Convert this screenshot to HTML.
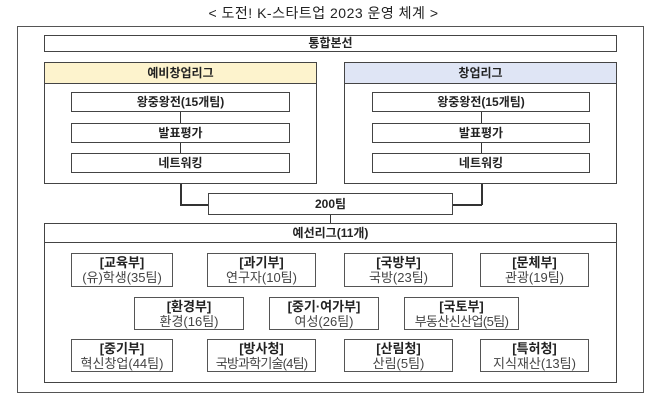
<!DOCTYPE html>
<html><head><meta charset="utf-8"><style>
body{margin:0;width:647px;height:401px;background:#fff;position:relative;overflow:hidden;font-family:"Liberation Sans","Noto Sans CJK KR",sans-serif;color:#222}
.b{position:absolute;box-sizing:border-box;border:1px solid #444;background:#fff;text-align:center;font-weight:bold;font-size:12px}
.l{position:absolute;background:#333}
.s{position:absolute;box-sizing:border-box;border:1px solid #555;background:#fff;text-align:center;font-size:13px;line-height:15px;padding-top:1px;white-space:nowrap}
.s b{display:block;font-size:13px;color:#222}
.s span{color:#444}
</style></head><body>
<div style="position:absolute;left:0;width:647px;top:3px;text-align:center;font-size:14px;letter-spacing:0.5px">&lt; 도전! K-스타트업 2023 운영 체계 &gt;</div>
<div style="position:absolute;left:17px;top:26px;width:627px;height:367px;box-sizing:border-box;border:1px solid #555"></div>
<div class="b" style="left:44px;top:35px;width:573px;height:17px;line-height:15px">통합본선</div>

<div class="b" style="left:44px;top:62px;width:273px;height:122px"></div>
<div class="b" style="left:44px;top:62px;width:273px;height:22px;line-height:20px;background:#fdf3cd">예비창업리그</div>
<div class="b" style="left:344px;top:62px;width:273px;height:122px"></div>
<div class="b" style="left:344px;top:62px;width:273px;height:22px;line-height:20px;background:#dfe5f5">창업리그</div>

<div class="l" style="left:180px;top:112px;width:1px;height:42px"></div>
<div class="l" style="left:481px;top:112px;width:1px;height:42px"></div>
<div class="b" style="left:71px;top:92px;width:219px;height:20px;line-height:18px">왕중왕전(15개팀)</div>
<div class="b" style="left:71px;top:123px;width:219px;height:20px;line-height:18px">발표평가</div>
<div class="b" style="left:71px;top:153px;width:219px;height:20px;line-height:18px">네트워킹</div>
<div class="b" style="left:372px;top:92px;width:218px;height:20px;line-height:18px">왕중왕전(15개팀)</div>
<div class="b" style="left:372px;top:123px;width:218px;height:20px;line-height:18px">발표평가</div>
<div class="b" style="left:372px;top:153px;width:218px;height:20px;line-height:18px">네트워킹</div>

<div class="l" style="left:180px;top:184px;width:1.5px;height:21px"></div>
<div class="l" style="left:180px;top:204px;width:28px;height:1.5px"></div>
<div class="l" style="left:481px;top:184px;width:1.5px;height:21px"></div>
<div class="l" style="left:453px;top:204px;width:29px;height:1.5px"></div>
<div class="b" style="left:208px;top:193px;width:245px;height:22px;line-height:20px">200팀</div>
<div class="l" style="left:330px;top:215px;width:1px;height:8px"></div>

<div class="b" style="left:44px;top:223px;width:573px;height:160px"></div>
<div class="b" style="left:44px;top:223px;width:573px;height:20px;line-height:18px">예선리그(11개)</div>

<div class="s" style="left:71px;top:253px;width:102px;height:34px"><b>[교육부]</b><span>(유)학생(35팀)</span></div>
<div class="s" style="left:207px;top:253px;width:109px;height:34px"><b>[과기부]</b><span>연구자(10팀)</span></div>
<div class="s" style="left:344px;top:253px;width:109px;height:34px"><b>[국방부]</b><span>국방(23팀)</span></div>
<div class="s" style="left:480px;top:253px;width:109px;height:34px"><b>[문체부]</b><span>관광(19팀)</span></div>
<div class="s" style="left:134px;top:297px;width:110px;height:33px"><b>[환경부]</b><span>환경(16팀)</span></div>
<div class="s" style="left:269px;top:297px;width:110px;height:33px"><b>[중기·여가부]</b><span>여성(26팀)</span></div>
<div class="s" style="left:404px;top:297px;width:115px;height:33px"><b>[국토부]</b><span style="letter-spacing:-0.6px">부동산신산업(5팀)</span></div>
<div class="s" style="left:71px;top:339px;width:102px;height:33px"><b>[중기부]</b><span>혁신창업(44팀)</span></div>
<div class="s" style="left:207px;top:339px;width:109px;height:33px"><b>[방사청]</b><span style="letter-spacing:-0.8px">국방과학기술(4팀)</span></div>
<div class="s" style="left:344px;top:339px;width:109px;height:33px"><b>[산림청]</b><span>산림(5팀)</span></div>
<div class="s" style="left:480px;top:339px;width:109px;height:33px"><b>[특허청]</b><span>지식재산(13팀)</span></div>
</body></html>
